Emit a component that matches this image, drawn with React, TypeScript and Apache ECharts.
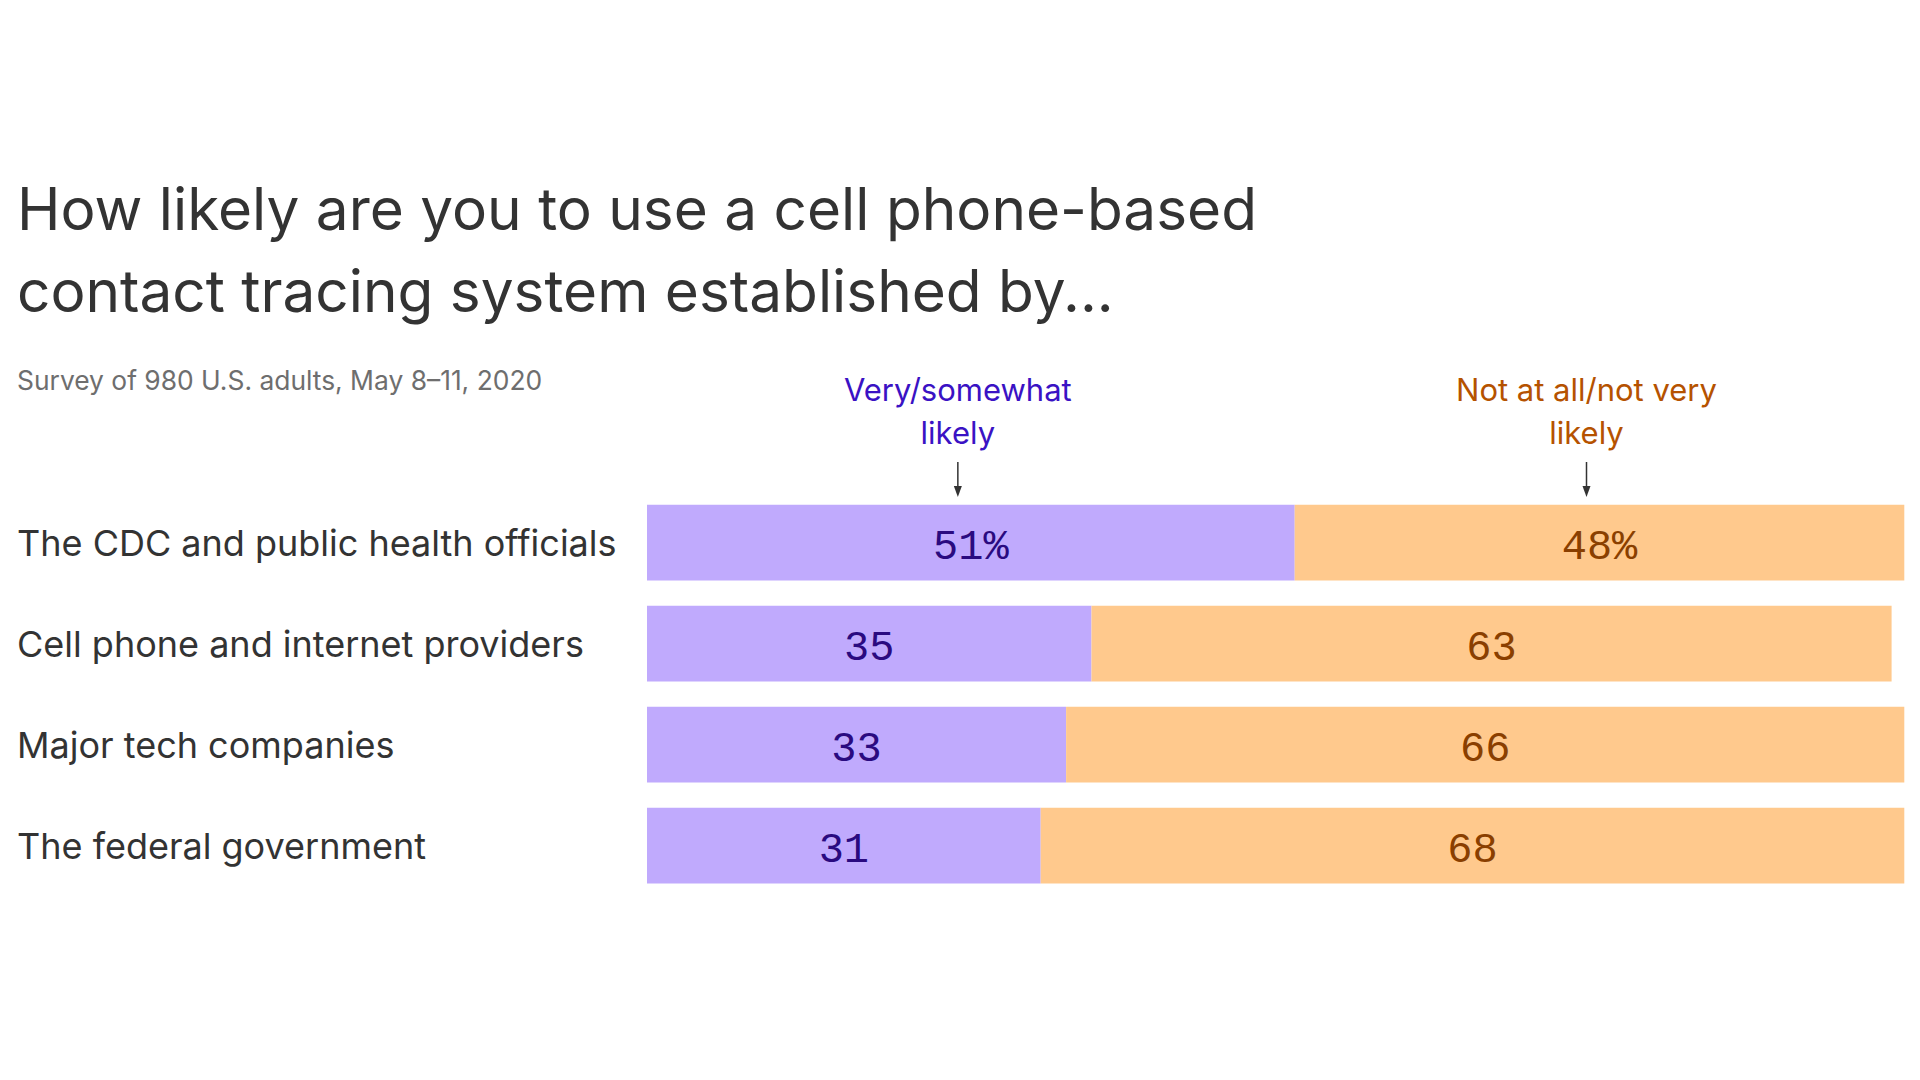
import React, { useEffect, useRef } from "react";
import * as echarts from "echarts";

const categories = [
  "The CDC and public health officials",
  "Cell phone and internet providers",
  "Major tech companies",
  "The federal government",
];
const likely = [51, 35, 33, 31];
const notLikely = [48, 63, 66, 68];
const titleLines = [
  "How likely are you to use a cell phone-based",
  "contact tracing system established by...",
];
const subtitle = "Survey of 980 U.S. adults, May 8–11, 2020";
const legendLikely = ["Very/somewhat", "likely"];
const legendNot = ["Not at all/not very", "likely"];

const PURPLE = "#c0aafd";
const ORANGE = "#ffc98d";
const PURPLE_TEXT = "#3a12c4";
const ORANGE_TEXT = "#b55200";
const FONT = "Inter";
const MONO = "Liberation Mono";

export default function App() {
  const ref = useRef<HTMLDivElement>(null);
  useEffect(() => {
    document.body.style.margin = "0";
    const chart = echarts.init(ref.current!, undefined, { renderer: "svg" });
    const fmt = (p: any) => (p.dataIndex === 0 ? p.value + "%" : String(p.value));
    chart.setOption({
      animation: false,
      backgroundColor: "#ffffff",
      grid: { left: 647, right: 3, top: 492, height: 404, containLabel: false },
      xAxis: { type: "value", min: 0, max: 100, show: false },
      yAxis: {
        type: "category",
        data: categories,
        inverse: true,
        axisLine: { show: false },
        axisTick: { show: false },
        axisLabel: {
          align: "left",
          margin: 630,
          fontFamily: FONT,
          fontSize: 36,
          color: "#333333",
          padding: [9, 0, 0, 0],
        },
      },
      series: [
        {
          type: "bar",
          stack: "s",
          data: likely,
          barCategoryGap: "25%",
          itemStyle: { color: PURPLE },
          label: {
            show: true,
            position: "inside",
            offset: [0, 5],
            formatter: fmt,
            fontFamily: MONO,
            fontSize: 42,
            color: "#2a0a80",
          },
        },
        {
          type: "bar",
          stack: "s",
          data: notLikely,
          barCategoryGap: "25%",
          itemStyle: { color: ORANGE },
          label: {
            show: true,
            position: "inside",
            offset: [0, 5],
            formatter: fmt,
            fontFamily: MONO,
            fontSize: 42,
            color: "#8a3f00",
          },
        },
      ],
    });

    const cx1 = (chart.convertToPixel({ gridIndex: 0 }, [likely[0] / 2, 0]) as number[])[0] - 13;
    const cx2 = (chart.convertToPixel({ gridIndex: 0 }, [likely[0] + notLikely[0] / 2, 0]) as number[])[0] - 13;

    const legendTexts = (lines: string[], x: number, color: string) =>
      lines.map((t, i) => ({
        type: "text",
        x,
        y: 389 + i * 43,
        style: {
          text: t,
          fill: color,
          font: `31px ${FONT}`,
          align: "center",
          verticalAlign: "middle",
        },
      }));
    const arrow = (x: number) => [
      { type: "line", shape: { x1: x, y1: 462, x2: x, y2: 490 }, style: { stroke: "#333", lineWidth: 1.5 } },
      {
        type: "polygon",
        shape: { points: [[x - 4, 486], [x + 4, 486], [x, 497]] },
        style: { fill: "#333" },
      },
    ];

    chart.setOption({
      graphic: [
        ...titleLines.map((t, i) => ({
          type: "text",
          x: 17,
          y: 208 + i * 82,
          style: {
            text: t,
            fill: "#333333",
            font: `58.5px ${FONT}`,
            verticalAlign: "middle",
          },
        })),
        {
          type: "text",
          x: 17,
          y: 380,
          style: { text: subtitle, fill: "#6e6e6e", font: `26.4px ${FONT}`, verticalAlign: "middle" },
        },
        ...legendTexts(legendLikely, cx1, PURPLE_TEXT),
        ...legendTexts(legendNot, cx2, ORANGE_TEXT),
        ...arrow(cx1),
        ...arrow(cx2),
      ],
    });
    return () => chart.dispose();
  }, []);
  return <div ref={ref} style={{ width: 1920, height: 1080 }} />;
}
